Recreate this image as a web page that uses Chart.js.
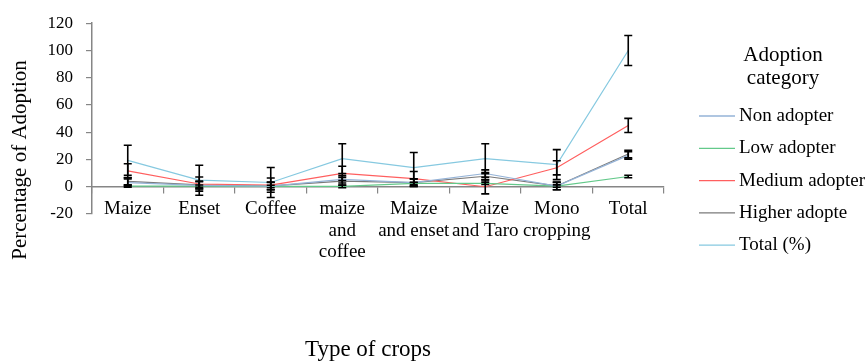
<!DOCTYPE html>
<html lang="en">
<head>
  <meta charset="UTF-8">
  <title>Adoption by type of crops</title>
  <script src="https://cdn.jsdelivr.net/npm/chart.js"></script>
  <style>
    html, body { margin: 0; padding: 0; background: #fff; }
    #wrap { width: 866px; height: 362px; }
  </style>
</head>
<body>
<div id="wrap"><canvas id="myChart"></canvas></div>

<script>
  const categories = [['Maize'], ['Enset'], ['Coffee'], ['maize', 'and', 'coffee'],
    ['Maize', 'and enset'], ['Maize', 'and Taro'], ['Mono', 'cropping'], ['Total']];

  const nonAdopter = [3.0, 1.0, 0.5, 5.4, 3.0, 9.7, 0.5, 23];
  const lowAdopter = [0.5, 0.4, 0.2, 0.2, 2.4, 2.5, 0.5, 7.5];
  const mediumAdopter = [11.7, 2.0, 1.2, 9.8, 6.0, 0.0, 13.9, 45];
  const higherAdopter = [4.0, 1.4, 0.6, 4.1, 3.0, 7.7, 0.6, 24];
  const totalPct = [19.4, 4.8, 3.1, 20.6, 14.1, 20.6, 16.2, 100];

  // standard error
  const seNon = 2.7, seLow = 0.9, seMedium = 5.2, seHigher = 2.8, seTotal = 11;

  const yTicks = [-20, 0, 20, 40, 60, 80, 100, 120];
  const legendTitle = ['Adoption', 'category'];

  const serif = '"Liberation Serif", "Times New Roman", serif';
  const axisGray = '#868686';

  // black error bars on every point
  const errorBars = {
    id: 'errorBars',
    afterDatasetsDraw(chart) {
      const ctx = chart.ctx, x = chart.scales.x, y = chart.scales.y;
      ctx.save();
      ctx.strokeStyle = '#000';
      ctx.lineWidth = 1.6;
      chart.data.datasets.forEach(ds => {
        ds.data.forEach((v, j) => {
          const px = x.getPixelForValue(j);
          const top = y.getPixelForValue(v + ds.errorBar);
          const bot = y.getPixelForValue(v - ds.errorBar);
          ctx.beginPath();
          ctx.moveTo(px, top); ctx.lineTo(px, bot);
          ctx.moveTo(px - 4, top); ctx.lineTo(px + 4, top);
          ctx.moveTo(px - 4, bot); ctx.lineTo(px + 4, bot);
          ctx.stroke();
        });
      });
      ctx.restore();
    }
  };

  // axis titles and the legend sit where the original put them
  const extras = {
    id: 'extras',
    afterDraw(chart) {
      const ctx = chart.ctx;
      ctx.save();
      ctx.fillStyle = '#000';
      ctx.textAlign = 'center';
      ctx.textBaseline = 'middle';
      ctx.font = '21px ' + serif;
      ctx.translate(20, 160);
      ctx.rotate(-Math.PI / 2);
      ctx.fillText('Percentage of Adoption', 0, 0);
      ctx.restore();

      ctx.save();
      ctx.fillStyle = '#000';
      ctx.textBaseline = 'middle';
      ctx.textAlign = 'center';
      ctx.font = '23px ' + serif;
      ctx.fillText('Type of crops', 368, 350);

      ctx.font = '21px ' + serif;
      legendTitle.forEach((t, i) => ctx.fillText(t, 783, 55 + i * 23));

      ctx.textAlign = 'left';
      ctx.font = '19px ' + serif;
      chart.data.datasets.forEach((ds, i) => {
        const ly = 116 + i * 32.3;
        ctx.strokeStyle = ds.borderColor;
        ctx.lineWidth = 1.3;
        ctx.beginPath();
        ctx.moveTo(699, ly);
        ctx.lineTo(735, ly);
        ctx.stroke();
        ctx.fillText(ds.label, 739, ly);
      });
      ctx.restore();
    }
  };

  function series(label, data, color, se) {
    return {
      label: label,
      data: data,
      borderColor: color,
      backgroundColor: color,
      borderWidth: 1.2,
      pointRadius: 0,
      tension: 0,
      errorBar: se
    };
  }

  new Chart(document.getElementById('myChart'), {
    type: 'line',
    data: {
      labels: categories,
      datasets: [
        series('Non adopter', nonAdopter, '#95b3d7', seNon),
        series('Low adopter', lowAdopter, '#63c98a', seLow),
        series('Medium adopter', mediumAdopter, '#ff5f5f', seMedium),
        series('Higher adopte', higherAdopter, '#7a7a7a', seHigher),
        series('Total (%)', totalPct, '#86c9e0', seTotal)
      ]
    },
    options: {
      responsive: true,
      maintainAspectRatio: false,
      animation: false,
      layout: { padding: { top: 21, bottom: 148, left: 0, right: 202 } },
      plugins: {
        tooltip: { enabled: false },
        legend: { display: false }
      },
      scales: {
        x: {
          type: 'category',
          position: { y: 0 },
          offset: true,
          grid: { display: true, drawOnChartArea: false, offset: true, tickLength: 6, color: axisGray, lineWidth: 1.2 },
          border: { display: true, color: axisGray, width: 1.5 },
          ticks: { color: '#000', padding: 6, maxRotation: 0, autoSkip: false,
                   font: { family: serif, size: 19, lineHeight: 1.12 } }
        },
        y: {
          min: -20,
          max: 120,
          afterBuildTicks(scale) { scale.ticks = yTicks.map(v => ({ value: v })); },
          afterFit(scale) { scale.width = 92; },
          grid: { display: true, drawOnChartArea: false, tickLength: 6, color: axisGray, lineWidth: 1.2 },
          border: { display: true, color: axisGray, width: 1.5 },
          ticks: { color: '#000', padding: 13, font: { family: serif, size: 17 } }
        }
      }
    },
    plugins: [errorBars, extras]
  });
</script>
</body>
</html>
